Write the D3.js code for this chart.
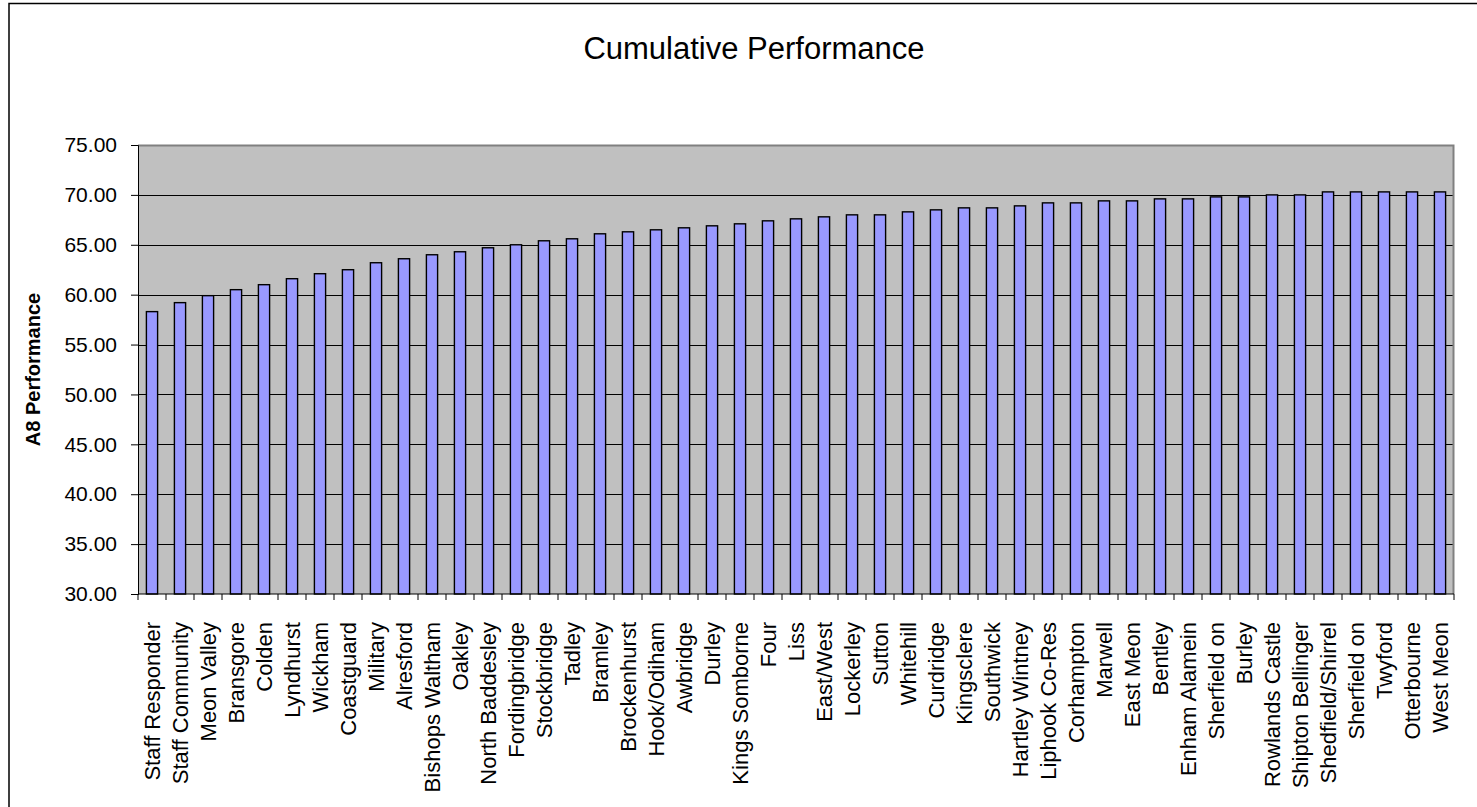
<!DOCTYPE html>
<html>
<head>
<meta charset="utf-8">
<script src="https://cdn.jsdelivr.net/npm/d3@7"></script>
<style>
  body { margin: 0; background: #fff; }
  text { font-family: Arial, "Liberation Sans", sans-serif; }
</style>
</head>
<body>
<div id="chart"></div>
<script>
// station names (two different "Sherfield on" entries, so bars are keyed by index)
var stations = ["Staff Responder", "Staff Community", "Meon Valley", "Bransgore", "Colden",
  "Lyndhurst", "Wickham", "Coastguard", "Military", "Alresford", "Bishops Waltham", "Oakley",
  "North Baddesley", "Fordingbridge", "Stockbridge", "Tadley", "Bramley", "Brockenhurst",
  "Hook/Odiham", "Awbridge", "Durley", "Kings Somborne", "Four", "Liss", "East/West",
  "Lockerley", "Sutton", "Whitehill", "Curdridge", "Kingsclere", "Southwick", "Hartley Wintney",
  "Liphook Co-Res", "Corhampton", "Marwell", "East Meon", "Bentley", "Enham Alamein",
  "Sherfield on", "Burley", "Rowlands Castle", "Shipton Bellinger", "Shedfield/Shirrel",
  "Sherfield on", "Twyford", "Otterbourne", "West Meon"];

var performance = [58.3, 59.2, 59.9, 60.5, 61.0, 61.6, 62.1, 62.5, 63.2, 63.6, 64.0, 64.3,
  64.7, 65.0, 65.4, 65.6, 66.1, 66.3, 66.5, 66.7, 66.9, 67.1, 67.4, 67.6, 67.8,
  68.0, 68.0, 68.3, 68.5, 68.7, 68.7, 68.9, 69.2, 69.2, 69.4, 69.4, 69.6, 69.6,
  69.8, 69.8, 70.0, 70.0, 70.3, 70.3, 70.3, 70.3, 70.3];

var yTicks = [30, 35, 40, 45, 50, 55, 60, 65, 70, 75];

var W = 1477, H = 807;
var margin = {top: 145, right: 23, bottom: 213, left: 138},
    width = W - margin.left - margin.right,
    height = H - margin.top - margin.bottom;

var svg = d3.select("#chart")
  .append("svg")
  .attr("width", W)
  .attr("height", H);

// outer chart frame (runs off the right and bottom edge)
svg.append("rect")
  .attr("x", 9).attr("y", 3.5)
  .attr("width", W + 20).attr("height", H + 20)
  .attr("fill", "#fff")
  .attr("stroke", "#000")
  .attr("stroke-width", 1.5);

svg.append("text")
  .attr("x", 754).attr("y", 59)
  .attr("text-anchor", "middle")
  .attr("font-size", 31)
  .text("Cumulative Performance");

var g = svg.append("g")
  .attr("transform", "translate(" + margin.left + "," + margin.top + ")");

var x = d3.scaleBand()
  .domain(d3.range(stations.length))
  .range([0, width])
  .paddingInner(0.6)
  .paddingOuter(0.3);

var y = d3.scaleLinear()
  .domain([30, 75])
  .range([height, 0]);

// plot area
g.append("rect")
  .attr("width", width).attr("height", height)
  .attr("fill", "#c0c0c0");

// gridlines
g.selectAll("line.grid")
  .data(yTicks.slice(1, -1))
  .enter().append("line")
  .attr("class", "grid")
  .attr("x1", 0).attr("x2", width)
  .attr("y1", function(d) { return Math.round(y(d)) + 0.5; })
  .attr("y2", function(d) { return Math.round(y(d)) + 0.5; })
  .attr("stroke", "#000")
  .attr("stroke-width", 1);

// top + right border
g.append("path")
  .attr("d", "M0,0.5H" + (width - 0.5) + "V" + height)
  .attr("fill", "none")
  .attr("stroke", "#808080")
  .attr("stroke-width", 2);

g.selectAll("rect.bar")
  .data(performance)
  .enter().append("rect")
  .attr("class", "bar")
  .attr("x", function(d, i) { return x(i); })
  .attr("y", function(d) { return y(d); })
  .attr("width", x.bandwidth())
  .attr("height", function(d) { return height - y(d); })
  .attr("fill", "#9999ff")
  .attr("stroke", "#000")
  .attr("stroke-width", 1.4);

// y axis
var yAxis = g.append("g")
  .call(d3.axisLeft(y).tickValues(yTicks).tickFormat(d3.format(".2f")).tickSize(7).tickPadding(14));
yAxis.selectAll("text").attr("font-size", 21).attr("fill", "#000")
  .style("font-family", "Arial, 'Liberation Sans', sans-serif");
yAxis.selectAll("line, path").attr("stroke", "#000");

// x axis: ticks at band boundaries
var bounds = d3.range(stations.length + 1).map(function(i) { return i * x.step(); });
g.append("g").selectAll("line")
  .data(bounds)
  .enter().append("line")
  .attr("x1", function(d) { return d; }).attr("x2", function(d) { return d; })
  .attr("y1", height).attr("y2", height + 6)
  .attr("stroke", "#000");
g.append("line")
  .attr("x1", 0).attr("x2", width)
  .attr("y1", height).attr("y2", height)
  .attr("stroke", "#000");

g.append("g").selectAll("text")
  .data(stations)
  .enter().append("text")
  .attr("transform", function(d, i) {
    return "translate(" + (x(i) + x.bandwidth() / 2 + 7.5) + "," + (height + 28) + ") rotate(-90)";
  })
  .attr("text-anchor", "end")
  .attr("font-size", 22)
  .text(function(d) { return d; });

svg.append("text")
  .attr("transform", "translate(40," + (margin.top + height / 2) + ") rotate(-90)")
  .attr("text-anchor", "middle")
  .attr("font-size", 20)
  .attr("font-weight", "bold")
  .text("A8 Performance");
</script>
</body>
</html>
